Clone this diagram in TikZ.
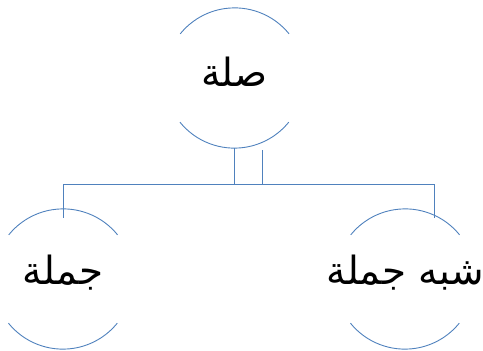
\documentclass[tikz,border=0pt]{standalone}
\usepackage{fontspec}
\TeXXeTstate=1
\newfontfamily\arabicfont[Script=Arabic]{DejaVu Sans}
\definecolor{lineblue}{RGB}{79,129,189}
\tikzset{
  circnode/.style={circle, draw=none, minimum size=140bp, inner sep=0pt},
  txt/.style={font=\arabicfont\fontsize{39}{46}\selectfont, inner sep=0pt},
  arcline/.style={draw=lineblue, line width=0.9bp},
  conn/.style={draw=lineblue, line width=0.9bp}
}
\begin{document}
\begin{tikzpicture}[x=1bp,y=1bp]
\useasboundingbox (0,0) rectangle (483,350);
\node[circnode] (p) at (234.5,272) {};
\node[circnode] (c1) at (63,71) {};
\node[circnode] (c2) at (405,71) {};
\node[txt] (tp) at ([yshift=6bp]p.center) {\beginR صلة\endR};
\node[txt] (t1) at ([yshift=6bp]c1.center) {\beginR جملة\endR};
\node[txt] (t2) at ([yshift=6bp]c2.center) {\beginR شبه جملة\endR};
\foreach \n in {p,c1,c2}{
  \draw[arcline] (\n.39) arc[start angle=39, end angle=141, radius=70bp];
  \draw[arcline] (\n.219) arc[start angle=219, end angle=321, radius=70bp];
}
\coordinate (bL) at (63,166);
\coordinate (bR) at (434,166);
\coordinate (eL) at (63,132);
\coordinate (eR) at (434,132);
\coordinate (s2) at (262,200);
\draw[conn] (p.south) -- (p.south |- bL);
\draw[conn] (s2) -- (s2 |- bL);
\draw[conn] (bL) -- (bR);
\draw[conn] (bL) -- (eL);
\draw[conn] (bR) -- (eR);
\end{tikzpicture}
\end{document}
